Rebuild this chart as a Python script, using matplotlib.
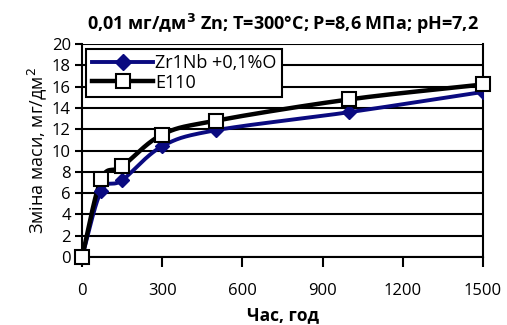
import matplotlib
matplotlib.use("Agg")
import matplotlib.pyplot as plt
import numpy as np

plt.rcParams['font.family'] = ['Open Sans', 'DejaVu Sans']

hours = [0, 72, 150, 300, 500, 1000, 1500]
zr1nb = [0, 6.2, 7.2, 10.4, 11.9, 13.6, 15.5]
e110 = [0, 7.3, 8.5, 11.5, 12.8, 14.8, 16.2]
x_ticks = [0, 300, 600, 900, 1200, 1500]
y_ticks = list(range(0, 21, 2))


def smooth(x, y, n=30):
    # Catmull-Rom style curve through the points, like Excel's smoothed line
    x = np.asarray(x, float)
    y = np.asarray(y, float)
    px = np.concatenate([[2 * x[0] - x[1]], x, [2 * x[-1] - x[-2]]])
    py = np.concatenate([[2 * y[0] - y[1]], y, [2 * y[-1] - y[-2]]])
    xs, ys = [], []
    t = np.linspace(0, 1, n)
    for i in range(1, len(px) - 2):
        for p, out in ((px, xs), (py, ys)):
            p0, p1, p2, p3 = p[i - 1], p[i], p[i + 1], p[i + 2]
            c1 = p1 + (p2 - p0) / 6
            c2 = p2 - (p3 - p1) / 6
            out.extend((1 - t) ** 3 * p1 + 3 * (1 - t) ** 2 * t * c1
                       + 3 * (1 - t) * t ** 2 * c2 + t ** 3 * p2)
    return xs, ys


fig = plt.figure(figsize=(5.07, 3.25), dpi=100)
ax = fig.add_axes([0.1617, 0.2092, 0.791, 0.6554])

blue = '#0a0a80'
sx, sy = smooth(hours, zr1nb)
ax.plot(sx, sy, color=blue, lw=2.8, zorder=3)
ax.plot(hours, zr1nb, ls='none', marker='D', ms=7, color=blue, zorder=4)
ax.plot([], [], color=blue, lw=2.8, marker='D', ms=8, label='Zr1Nb +0,1%O')

sx, sy = smooth(hours, e110)
ax.plot(sx, sy, color='black', lw=3.2, zorder=3)
ax.plot(hours, e110, ls='none', marker='s', ms=10, mfc='white', mec='black',
        mew=1.5, zorder=5, clip_on=False)
ax.plot([], [], color='black', lw=3.2, marker='s', ms=10, mfc='white',
        mec='black', mew=1.5, label='E110')

ax.set_xlim(0, 1500)
ax.set_ylim(0, 20)
ax.set_xticks(x_ticks)
ax.set_yticks(y_ticks)
ax.yaxis.grid(True, color='black', lw=1.5)
ax.set_axisbelow(True)
for s in ax.spines.values():
    s.set_linewidth(1.5)
ax.spines['top'].set_visible(False)
ax.tick_params(axis='both', direction='out', width=1.5, labelsize=12)
ax.tick_params(axis='x', length=7, pad=12)
ax.tick_params(axis='y', length=5, pad=3)

ax.set_title(r'0,01 мг/дм$^{\mathbf{3}}$ Zn; T=300°C; P=8,6 МПа; pH=7,2',
             fontsize=13, fontweight='bold', pad=10)
ax.set_xlabel('Час, год', fontsize=12.5, fontweight='bold', labelpad=5)
ax.set_ylabel('Зміна маси, мг/дм$^{2}$', fontsize=13, labelpad=2)

leg = ax.legend(loc='upper left', fontsize=13, frameon=True, fancybox=False,
                borderpad=0.3, labelspacing=0.1, handlelength=3.4,
                handletextpad=0.1, borderaxespad=0.25)
leg.get_frame().set_edgecolor('black')
leg.get_frame().set_linewidth(1.5)
leg.get_frame().set_alpha(1)

fig.savefig('out.png', dpi=100)
